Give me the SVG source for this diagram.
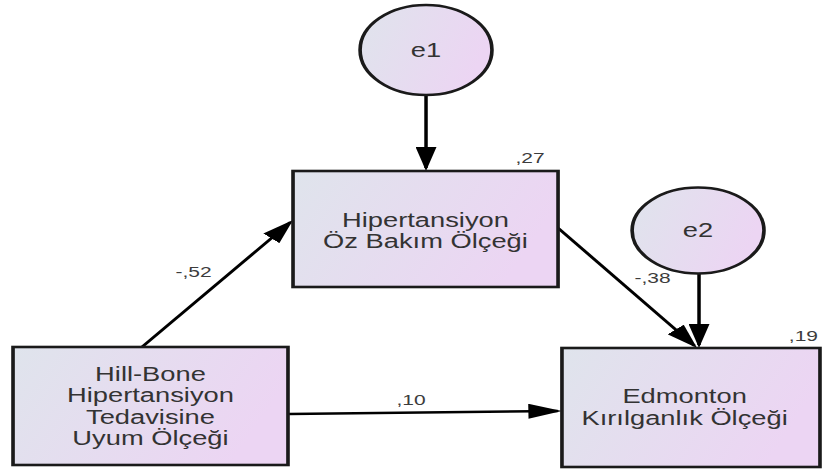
<svg xmlns="http://www.w3.org/2000/svg" width="823" height="470" viewBox="0 0 823 470">
  <defs>
    <linearGradient id="fillGrad" x1="0" y1="0" x2="1" y2="0.3">
      <stop offset="0" stop-color="#dfe4ec"/>
      <stop offset="1" stop-color="#ecd5f3"/>
    </linearGradient>
    <marker id="arrow" markerUnits="userSpaceOnUse" viewBox="0 0 24 15" markerWidth="24" markerHeight="15" refX="21" refY="7.5" orient="auto">
      <path d="M0,0 L24,7.5 L0,15 Z" fill="#000"/>
    </marker>
    <style>
      .node { fill: url(#fillGrad); stroke: #1a1a1a; stroke-width: 2.6; }
      .conn { stroke: #000; stroke-width: 2.5; fill: none; marker-end: url(#arrow); }
      .lbl { font-family: "Liberation Sans", Arial, sans-serif; font-size: 19.5px; fill: #333; text-anchor: middle; }
      .coef { font-family: "Liberation Sans", Arial, sans-serif; font-size: 15px; fill: #3c3c3c; text-anchor: middle; }
    </style>
  </defs>
  <rect width="823" height="470" fill="#ffffff"/>
  <g transform="scale(1.4,1)">
    <g id="connectors">
      <line class="conn" x1="304.3" y1="95" x2="304.3" y2="168"/>
      <line class="conn" x1="499.3" y1="273.5" x2="499.3" y2="345"/>
      <line class="conn" x1="101.4" y1="347" x2="207.4" y2="222.3"/>
      <line class="conn" x1="398.6" y1="228" x2="496.0" y2="345.7"/>
      <line class="conn" x1="206.4" y1="414" x2="398.4" y2="411"/>
    </g>
    <g id="e1">
      <ellipse class="node" cx="304.3" cy="50" rx="47.1" ry="45"/>
      <text class="lbl" x="304.3" y="57">e1</text>
    </g>
    <g id="e2">
      <ellipse class="node" cx="498.6" cy="230.5" rx="47.1" ry="43"/>
      <text class="lbl" x="498.6" y="237">e2</text>
    </g>
    <g id="hipertansiyon">
      <rect class="node" x="209.3" y="171" width="189.3" height="116"/>
      <text class="lbl" x="303.9" y="227">Hipertansiyon</text>
      <text class="lbl" x="303.9" y="248">Öz Bakım Ölçeği</text>
    </g>
    <g id="hillbone">
      <rect class="node" x="9.3" y="347" width="196.4" height="118"/>
      <text class="lbl" x="107.5" y="381">Hill-Bone</text>
      <text class="lbl" x="107.5" y="402.5">Hipertansiyon</text>
      <text class="lbl" x="107.5" y="424">Tedavisine</text>
      <text class="lbl" x="107.5" y="445.5">Uyum Ölçeği</text>
    </g>
    <g id="edmonton">
      <rect class="node" x="401.4" y="348" width="184.3" height="119"/>
      <text class="lbl" x="489" y="403.5">Edmonton</text>
      <text class="lbl" x="489" y="425">Kırılganlık Ölçeği</text>
    </g>
    <g id="coefficients">
      <text class="coef" x="378.6" y="163">,27</text>
      <text class="coef" x="138.2" y="277">-,52</text>
      <text class="coef" x="466.1" y="283">-,38</text>
      <text class="coef" x="293.6" y="405">,10</text>
      <text class="coef" x="573.9" y="341">,19</text>
    </g>
  </g>
</svg>
